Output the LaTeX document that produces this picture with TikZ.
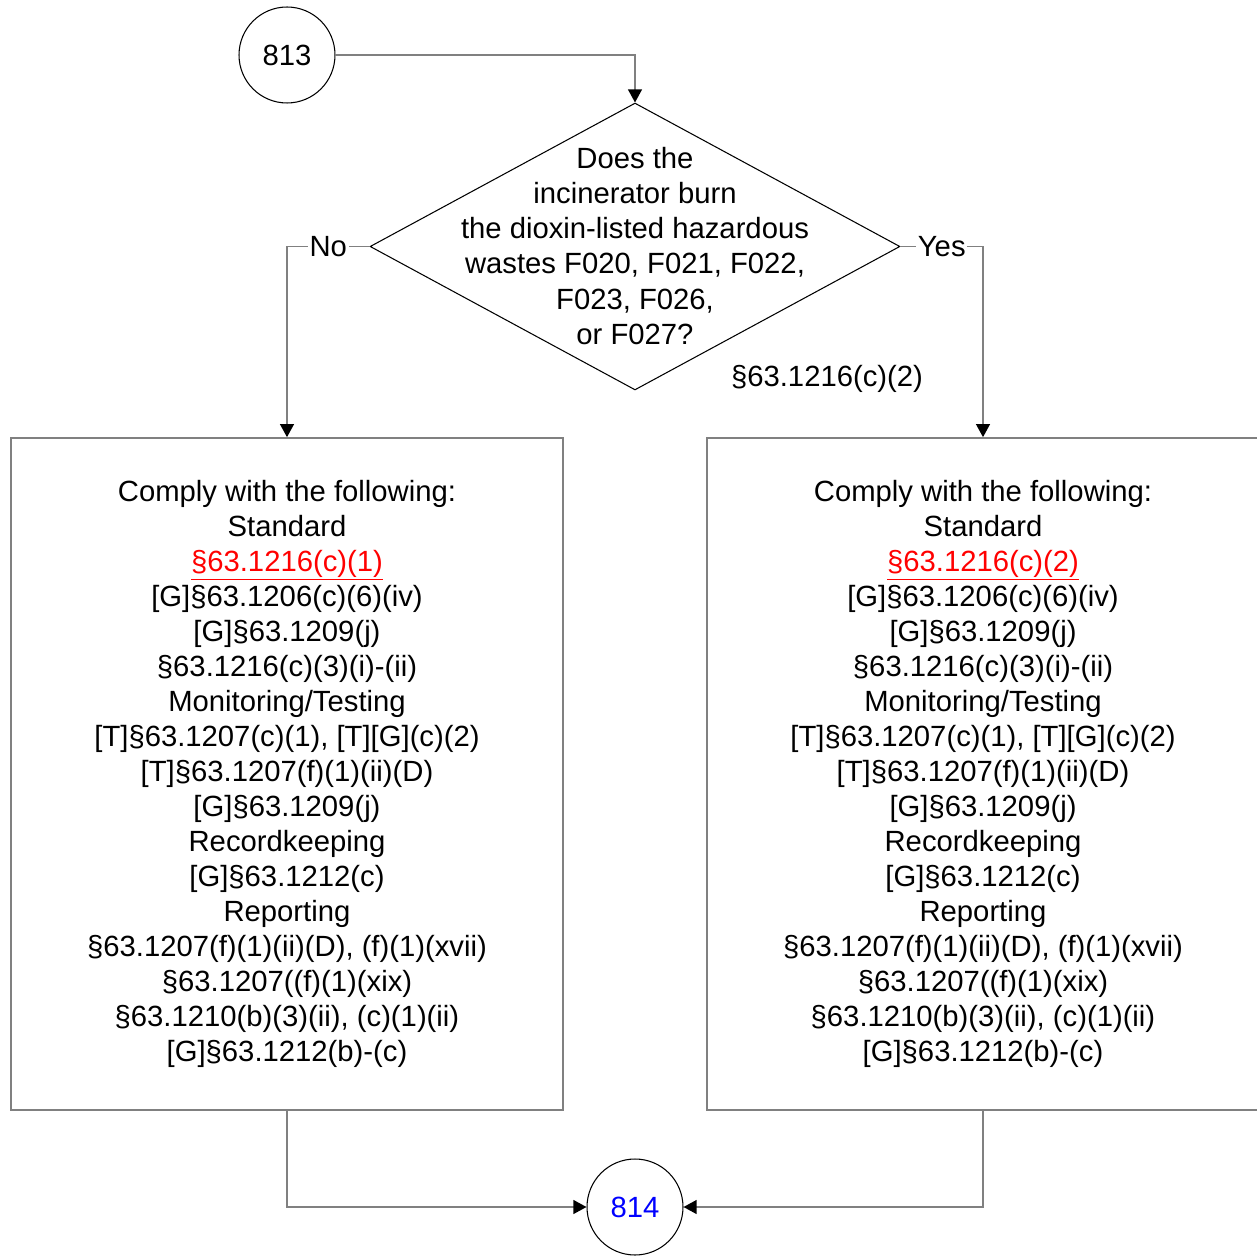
\documentclass[tikz,border=0pt]{standalone}
\usepackage{fontspec}
\setmainfont{Liberation Sans}
\usetikzlibrary{shapes.geometric,arrows.meta}
\definecolor{lgray}{HTML}{808080}
\definecolor{linkred}{HTML}{FF0000}
\definecolor{refblue}{HTML}{0000FF}
\newcommand\complytext[1]{Comply with the following:\\
Standard\\
\textcolor{linkred}{\underline{#1}}\\
{[G]}§63.1206(c)(6)(iv)\\
{[G]}§63.1209(j)\\
§63.1216(c)(3)(i)-(ii)\\
Monitoring/Testing\\
{[T]}§63.1207(c)(1), [T][G](c)(2)\\
{[T]}§63.1207(f)(1)(ii)(D)\\
{[G]}§63.1209(j)\\
Recordkeeping\\
{[G]}§63.1212(c)\\
Reporting\\
§63.1207(f)(1)(ii)(D), (f)(1)(xvii)\\
§63.1207((f)(1)(xix)\\
§63.1210(b)(3)(ii), (c)(1)(ii)\\
{[G]}§63.1212(b)-(c)}
\begin{document}
\begin{tikzpicture}[x=0.02cm,y=-0.02cm,
  every node/.style={font=\fontsize{16.65pt}{19.95pt}\selectfont},
  term/.style={circle, draw=black, line width=0.6pt, minimum size=1.92cm, inner sep=0pt},
  decbox/.style={diamond, draw=black, line width=0.6pt, minimum width=10.6cm, minimum height=5.74cm, inner sep=0pt},
  actbox/.style={rectangle, draw=lgray, line width=1pt, minimum width=11.04cm, minimum height=13.44cm, align=center, inner sep=0pt},
  conn/.style={draw=lgray, line width=1pt, -{Triangle[length=7.4pt,width=7.8pt,color=black]}},
  lbl/.style={fill=white, inner sep=1pt}]
\useasboundingbox (0,0) rectangle (1257,1256);
\node[term] (c813) at (287,55) {813};
\node[decbox] (dec) at (635,246.5) {};
\node[align=center] (dectext) at (635,246) {Does the\\incinerator burn\\the dioxin-listed hazardous\\wastes F020, F021, F022,\\F023, F026,\\or F027?};
\node (decref) at (827,379) {§63.1216(c)(2)};
\node[actbox] (lbox) at (287,774) {\complytext{§63.1216(c)(1)}};
\node[actbox] (rbox) at (983,774) {\complytext{§63.1216(c)(2)}};
\node[term, text=refblue] (c814) at (635,1207) {814};
\draw[conn] (c813.east) -| (dec.north);
\draw[conn] (dec.west) -| node[lbl, pos=0.25] {No} (lbox.north);
\draw[conn] (dec.east) -| node[lbl, pos=0.25] {Yes} (rbox.north);
\draw[conn] (lbox.south) |- (c814.west);
\draw[conn] (rbox.south) |- (c814.east);
\end{tikzpicture}
\end{document}
